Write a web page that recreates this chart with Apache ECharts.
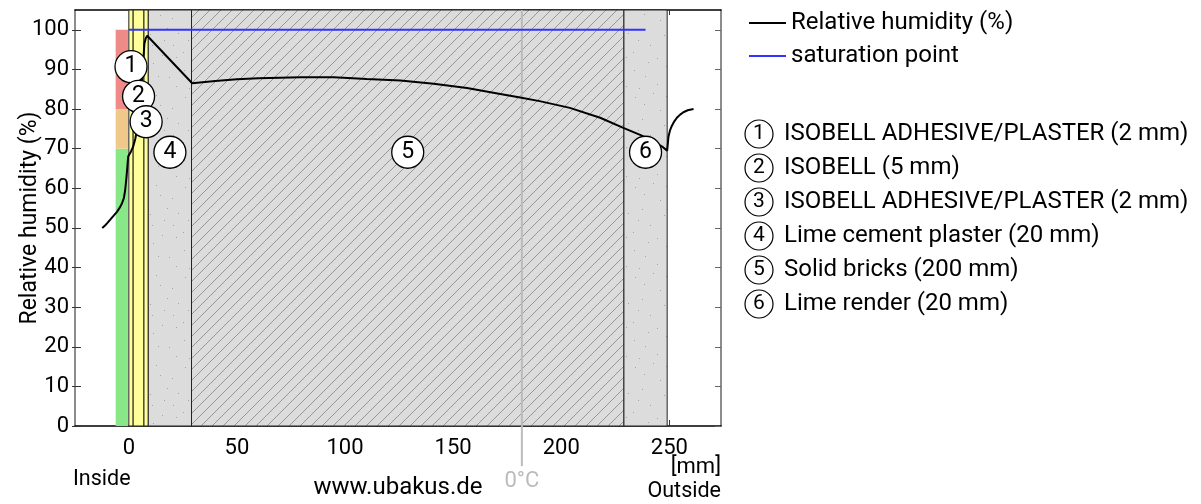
<!DOCTYPE html>
<html><head><meta charset="utf-8">
<script src="https://cdn.jsdelivr.net/npm/echarts@6.0.0/dist/echarts.min.js"></script>
<style>html,body{margin:0;padding:0;background:#fff}#c{width:1201px;height:504px}</style>
</head><body><div id="c"></div><script>
// ---- data ----
const layerNames = ['ISOBELL ADHESIVE/PLASTER (2 mm)','ISOBELL (5 mm)','ISOBELL ADHESIVE/PLASTER (2 mm)','Lime cement plaster (20 mm)','Solid bricks (200 mm)','Lime render (20 mm)'];
const layerThickness = [2, 5, 2, 20, 200, 20];
const layerLabelLevel = [90.7, 83.2, 76.8, 69.1, 69.1, 69.1];
const layerMaterial = ['adhesive','insulation','adhesive','plaster','brick','plaster'];
const humidityX = [-12.3,-11,-10,-8.4,-7,-5.4,-4,-3.1,-2.3,-1.7,-1.05,-0.6,-0.3,0, 1,2,3,4,5,6,6.6,6.9,7.2,7.8,8.5,9, 29.3,40,50,60,79.5,94.8,110,125.6,141,156.4,171.8,181,190,204,218,229, 236.5,242,246.5,249, 249.6,250.3,251.2,252.3,253.5,255,256.5,258.5,261.2];
const humidityY = [50,50.6,51.2,52.2,53.1,54.1,55.3,56.3,57.5,59.5,63,66,68,68.5, 69.3,70.5,72.5,75.5,80,86.5,91,94,96.5,97.8,98.5,98.8, 86.5,87.1,87.5,87.8,88.0,88.0,87.6,87.2,86.4,85.3,83.8,82.9,82.0,80.3,77.8,75.2, 73.5,72.0,70.6,69.5, 73,74.6,75.8,76.9,77.8,78.6,79.2,79.7,80.0];
const saturationX = [0, 239];
const saturationY = [100, 100];
const zeroDegreeX = 181.8;
const comfortBandFrom = [0, 70, 80];
const comfortBandTo = [70, 80, 100];
const comfortBandX = [-6.1, -0.4];
const xTicks = [0, 50, 100, 150, 200, 250];
const yTicks = [0, 10, 20, 30, 40, 50, 60, 70, 80, 90, 100];
const xMin = -24.9, xMax = 273.9, yMin = 0, yMax = 105;

// ---- styles ----
const FONT = 'Roboto, sans-serif';
const comfortColors = ['#88e888', '#f0c88a', '#ee8a88'];
function makeHatch() {
  const s = 44, c = document.createElement('canvas'); c.width = s; c.height = s;
  const g = c.getContext('2d'); g.fillStyle = '#dcdcdc'; g.fillRect(0, 0, s, s);
  g.strokeStyle = '#979797'; g.lineWidth = 1;
  for (let k = -4; k <= 8; k++) { const o = k * 11; g.beginPath(); g.moveTo(o - 2, s + 2); g.lineTo(o + s + 2, -2); g.stroke(); }
  return c;
}
function makeSpeckle() {
  const s = 90, c = document.createElement('canvas'); c.width = s; c.height = s;
  const g = c.getContext('2d'); g.fillStyle = '#dcdcdc'; g.fillRect(0, 0, s, s);
  g.fillStyle = '#a4a4a4';
  const dots = [[5,7],[23,3],[41,12],[66,5],[82,18],[12,29],[34,35],[55,27],[74,40],[3,52],[27,58],[47,49],[63,63],[86,57],[15,76],[38,82],[58,85],[79,77],[9,88],[50,70],[70,15],[30,20],[88,33],[20,45],
                [14,14],[36,6],[58,10],[77,28],[44,30],[8,40],[62,45],[83,45],[36,66],[18,62],[72,55],[52,58],[4,70],[27,84],[68,76],[86,86],[46,90],[60,34]];
  dots.forEach(d => g.fillRect(d[0], d[1], 1, 1));
  return c;
}
const hatchFill = { image: makeHatch(), repeat: 'repeat' };
const speckleFill = { image: makeSpeckle(), repeat: 'repeat' };
const materialFill = { adhesive: '#ffff99', insulation: '#ffff99', plaster: speckleFill, brick: hatchFill };

// derived layer geometry
const layerStart = [], layerEnd = [];
layerThickness.reduce((acc, t) => { layerStart.push(acc); layerEnd.push(acc + t); return acc + t; }, 0);
const layerData = layerThickness.map((t, i) => [layerStart[i], layerEnd[i], i]);
const labelData = layerThickness.map((t, i) => [(layerStart[i] + layerEnd[i]) / 2, layerLabelLevel[i], i + 1]);
const comfortData = comfortBandFrom.map((f, i) => [comfortBandX[0], comfortBandX[1], f, comfortBandTo[i], i]);
const humidityData = humidityX.map((x, i) => [x, humidityY[i]]);
const saturationData = saturationX.map((x, i) => [x, saturationY[i]]);

const chart = echarts.init(document.getElementById('c'));
const tickStyle = { color: '#333', width: 1 };
chart.setOption({
  animation: false,
  textStyle: { fontFamily: FONT },
  grid: { left: 75, top: 10, width: 646, height: 416, containLabel: false, outerBoundsMode: 'none' },
  legend: {
    left: 749, top: 11, padding: 0, orient: 'vertical', icon: 'rect', itemWidth: 37, itemHeight: 2, itemGap: 9,
    textStyle: { fontSize: 24, color: '#000', fontFamily: FONT },
    data: ['Relative humidity (%)', 'saturation point']
  },
  xAxis: [
    { type: 'value', position: 'bottom', min: xMin, max: xMax,
      axisLine: { onZero: false, lineStyle: { color: '#000', width: 1.5 } },
      axisTick: { inside: true, length: 6, customValues: xTicks, lineStyle: tickStyle },
      axisLabel: { customValues: xTicks, fontSize: 22, color: '#000', margin: 11, fontFamily: FONT },
      splitLine: { show: false } },
    { type: 'value', position: 'top', min: xMin, max: xMax,
      axisLine: { onZero: false, lineStyle: { color: '#000', width: 1.5 } },
      axisTick: { inside: true, length: 5, customValues: xTicks, lineStyle: tickStyle },
      axisLabel: { show: false }, splitLine: { show: false } }
  ],
  yAxis: [
    { type: 'value', position: 'left', min: yMin, max: yMax,
      axisLine: { onZero: false, lineStyle: { color: '#666', width: 1.5 } },
      axisTick: { inside: true, length: 6, customValues: yTicks, lineStyle: tickStyle },
      axisLabel: { customValues: yTicks, fontSize: 22, color: '#000', margin: 6, fontFamily: FONT },
      splitLine: { show: false },
      name: 'Relative humidity (%)', nameLocation: 'middle', nameGap: 33, nameMoveOverlap: false,
      nameTextStyle: { fontSize: 23, color: '#000', fontFamily: FONT } },
    { type: 'value', position: 'right', min: yMin, max: yMax,
      axisLine: { onZero: false, lineStyle: { color: '#666', width: 1.5 } },
      axisTick: { inside: true, length: 6, customValues: yTicks, lineStyle: { color: '#666', width: 1 } },
      axisLabel: { show: false }, splitLine: { show: false } },
    { type: 'value', position: 'left', min: yMin, max: yMax,
      axisLine: { show: false, onZero: false },
      axisTick: { inside: false, length: 3, customValues: yTicks, lineStyle: tickStyle },
      axisLabel: { show: false }, splitLine: { show: false } }
  ],
  series: [
    { type: 'custom', name: 'layers', z: 1, silent: true, data: layerData,
      renderItem: (params, api) => {
        const a = api.coord([api.value(0), yMax]), b = api.coord([api.value(1), yMin]);
        const idx = api.value(2);
        return { type: 'rect', shape: { x: a[0], y: a[1], width: b[0] - a[0], height: b[1] - a[1] },
          style: { fill: materialFill[layerMaterial[idx]], stroke: '#222', lineWidth: 1 } };
      } },
    { type: 'custom', name: 'comfort', z: 1, silent: true, data: comfortData,
      renderItem: (params, api) => {
        const a = api.coord([api.value(0), api.value(3)]), b = api.coord([api.value(1), api.value(2)]);
        return { type: 'rect', shape: { x: a[0], y: a[1], width: b[0] - a[0], height: b[1] - a[1] },
          style: { fill: comfortColors[api.value(4)] } };
      } },
    { type: 'custom', name: '0°C', z: 2, silent: true, clip: false, data: [[zeroDegreeX]],
      renderItem: (params, api) => {
        const top = api.coord([api.value(0), yMax]), bot = api.coord([api.value(0), yMin]);
        return { type: 'group', children: [
          { type: 'line', shape: { x1: top[0], y1: top[1], x2: bot[0], y2: bot[1] + 40 }, style: { stroke: '#bbbbbb', lineWidth: 2 } },
          { type: 'text', x: bot[0], y: bot[1] + 55, style: { text: '0°C', fontSize: 22, fill: '#bbbbbb', align: 'center', verticalAlign: 'middle', fontFamily: FONT } }
        ] };
      } },
    { type: 'line', name: 'saturation point', z: 3, data: saturationData, symbol: 'none',
      lineStyle: { color: '#3333ff', width: 2 }, itemStyle: { color: '#3333ff' } },
    { type: 'line', name: 'Relative humidity (%)', z: 4, data: humidityData, symbol: 'none',
      lineStyle: { color: '#000', width: 2 }, itemStyle: { color: '#000' } },
    { type: 'scatter', name: 'labels', z: 5, data: labelData, symbol: 'circle', symbolSize: 32, silent: true,
      itemStyle: { color: '#fff', borderColor: '#000', borderWidth: 1.3, opacity: 1 },
      label: { show: true, position: 'inside', formatter: p => String(p.value[2]), fontSize: 23, color: '#000', fontFamily: FONT } }
  ],
  graphic: [
    ...layerNames.flatMap((name, i) => {
      const cy = 134 + 34 * i;
      return [
        { type: 'circle', shape: { cx: 759, cy: cy, r: 14 }, style: { fill: '#fff', stroke: '#000', lineWidth: 1.2 } },
        { type: 'text', x: 759, y: cy, style: { text: String(i + 1), fontSize: 21, fill: '#000', align: 'center', verticalAlign: 'middle', fontFamily: FONT } },
        { type: 'text', x: 784, y: cy, style: { text: name, fontSize: 24, fill: '#000', verticalAlign: 'middle', fontFamily: FONT } }
      ];
    }),
    { type: 'text', x: 73, y: 480, style: { text: 'Inside', fontSize: 21.5, fill: '#000', verticalAlign: 'middle', fontFamily: FONT } },
    { type: 'text', x: 398, y: 488, style: { text: 'www.ubakus.de', fontSize: 24, fill: '#000', align: 'center', verticalAlign: 'middle', fontFamily: FONT } },
    { type: 'text', x: 721, y: 467, style: { text: '[mm]', fontSize: 22, fill: '#000', align: 'right', verticalAlign: 'middle', fontFamily: FONT } },
    { type: 'text', x: 721, y: 492, style: { text: 'Outside', fontSize: 21.5, fill: '#000', align: 'right', verticalAlign: 'middle', fontFamily: FONT } }
  ]
});
</script></body></html>
